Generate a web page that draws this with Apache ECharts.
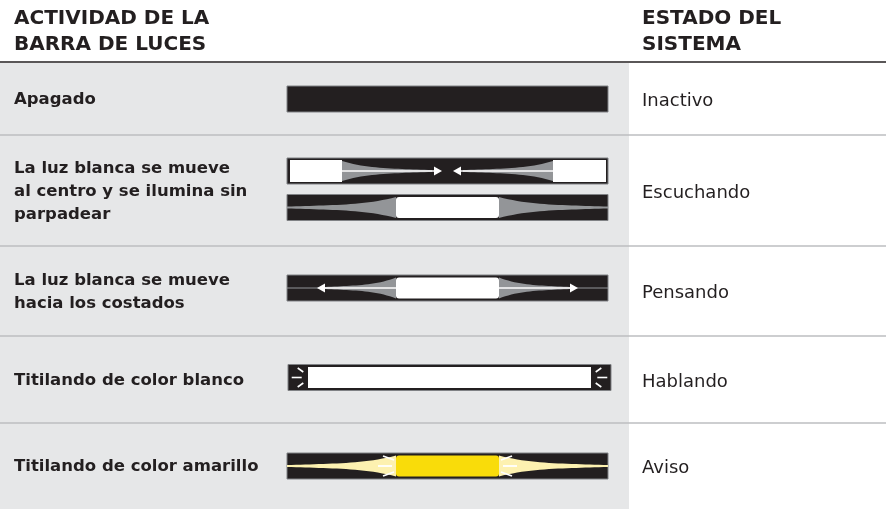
<!DOCTYPE html>
<html><head><meta charset="utf-8">
<script src="https://cdn.jsdelivr.net/npm/echarts@6/dist/echarts.min.js"></script>
<style>html,body{margin:0;padding:0;background:#fff}#c{width:886px;height:509px}</style>
</head><body><div id="c"></div>
<script>
// ---- content ----
const headerLeft = 'ACTIVIDAD DE LA\nBARRA DE LUCES';
const headerRight = 'ESTADO DEL\nSISTEMA';
const activities = [
  'Apagado',
  'La luz blanca se mueve\nal centro y se ilumina sin\nparpadear',
  'La luz blanca se mueve\nhacia los costados',
  'Titilando de color blanco',
  'Titilando de color amarillo'
];
const states = ['Inactivo', 'Escuchando', 'Pensando', 'Hablando', 'Aviso'];
const patterns = ['off', 'listening', 'thinking', 'speaking', 'alert'];

// ---- layout (pixel-like units of the hidden axes) ----
const W = 886, H = 509;
const LAY = {
  headerLine: 62, grayRight: 629,
  rowTops: [63, 135, 246, 336, 423, 509],
  textLeft: 14, textRight: 642,
  barX0: 287, barX1: 608, boxX0: 396, boxX1: 499,
  barH: 26
};
const C = {
  ink: '#231f20', gray: '#e6e7e8', sep: '#bcbec0', barStroke: '#808285',
  wedge: '#939598', yellow: '#f9dc0a', yellowLight: '#fdf1b0'
};
const FONT = '"DejaVu Sans", sans-serif';

function renderItem(params, api) {
  const i = api.value(0);
  const pt = (x, y) => api.coord([x, y]);
  const rect = (x0, y0, x1, y1, style, r) => {
    const a = pt(x0, y0), b = pt(x1, y1);
    return { type: 'rect', shape: { x: a[0], y: a[1], width: b[0] - a[0], height: b[1] - a[1], r: r || 0 }, style: style };
  };
  const line = (x0, y0, x1, y1, stroke, lw) => {
    const a = pt(x0, y0), b = pt(x1, y1);
    return { type: 'line', shape: { x1: a[0], y1: a[1], x2: b[0], y2: b[1] }, style: { stroke: stroke, lineWidth: lw || 1, lineCap: 'butt' } };
  };
  const poly = (pts, fill) => ({ type: 'polygon', shape: { points: pts.map(p => pt(p[0], p[1])) }, style: { fill: fill } });
  const wedge = (xs, xe, cy, h0, h1, fill) => {
    const top = [], bot = [];
    const n = 24;
    for (let k = 0; k <= n; k++) {
      const t = k / n;
      const h = h1 + (h0 - h1) * (0.7 * Math.pow(1 - t, 4) + 0.3 * (1 - t));
      const x = xs + (xe - xs) * t;
      top.push([x, cy - h]); bot.unshift([x, cy + h]);
    }
    return poly(top.concat(bot), fill);
  };
  const arrow = (tip, dir, cy, fill) => poly([[tip, cy], [tip - dir * 8, cy - 4.5], [tip - dir * 8, cy + 4.5]], fill);
  const bar = (x0, x1, cy) => rect(x0, cy - LAY.barH / 2, x1, cy + LAY.barH / 2, { fill: C.ink, stroke: C.barStroke, lineWidth: 1 });

  const y0 = LAY.rowTops[i], y1 = LAY.rowTops[i + 1];
  const cy = (y0 + y1) / 2;
  const ch = [];
  ch.push(rect(0, y0, LAY.grayRight, y1, { fill: C.gray }));
  if (i > 0) ch.push(line(0, y0, W, y0, C.sep, 1.5));

  const tl = pt(LAY.textLeft, cy + 1), tr = pt(LAY.textRight, cy + 2.5);
  ch.push({ type: 'text', style: { text: activities[i], x: tl[0], y: tl[1], fill: C.ink, font: 'bold 16.5px ' + FONT, lineHeight: 23, textVerticalAlign: 'middle', textAlign: 'left' } });
  ch.push({ type: 'text', style: { text: states[i], x: tr[0], y: tr[1], fill: C.ink, font: '18px ' + FONT, textVerticalAlign: 'middle', textAlign: 'left' } });

  const X0 = LAY.barX0, X1 = LAY.barX1, B0 = LAY.boxX0, B1 = LAY.boxX1;
  const p = patterns[i];
  if (p === 'off') {
    ch.push(bar(X0, X1, cy));
  } else if (p === 'listening') {
    const c1 = cy - 19.5, c2 = cy + 17;
    ch.push(bar(X0, X1, c1));
    ch.push(wedge(342, 432, c1, 10, 1, C.wedge));
    ch.push(wedge(553, 463, c1, 10, 1, C.wedge));
    ch.push(rect(290, c1 - 11, 342, c1 + 11, { fill: '#fff' }));
    ch.push(rect(553, c1 - 11, 606, c1 + 11, { fill: '#fff' }));
    ch.push(line(342, c1, 435, c1, '#fff', 1.5));
    ch.push(line(460, c1, 553, c1, '#fff', 1.5));
    ch.push(arrow(442, 1, c1, '#fff'));
    ch.push(arrow(453, -1, c1, '#fff'));
    ch.push(bar(X0, X1, c2));
    ch.push(line(X0, c2, X1, c2, C.wedge, 1));
    ch.push(wedge(B0, X0, c2, 10.5, 1, C.wedge));
    ch.push(wedge(B1, X1, c2, 10.5, 1, C.wedge));
    ch.push(rect(B0, c2 - 10.5, B1, c2 + 10.5, { fill: '#fff' }, 3));
  } else if (p === 'thinking') {
    const c = cy - 3;
    ch.push(bar(X0, X1, c));
    ch.push(line(X0, c, X1, c, C.wedge, 1));
    ch.push(wedge(B0, 322, c, 10.5, 1, C.wedge));
    ch.push(wedge(B1, 573, c, 10.5, 1, C.wedge));
    ch.push(rect(B0, c - 10.5, B1, c + 10.5, { fill: '#fff' }, 3));
    ch.push(line(323, c, B0, c, '#fff', 1.5));
    ch.push(line(B1, c, 572, c, '#fff', 1.5));
    ch.push(arrow(317, -1, c, '#fff'));
    ch.push(arrow(578, 1, c, '#fff'));
  } else if (p === 'speaking') {
    const c = cy - 2;
    const a = 288, b = 611, m = (a + b) / 2;
    ch.push(bar(a, b, c));
    ch.push(rect(308, c - 10.5, 591, c + 10.5, { fill: '#fff' }));
    const marks = [[297.7, -9.5, 303.3, -5.5], [291.7, 0, 301.7, 0], [297.7, 9.5, 303.3, 5.5]];
    marks.forEach(mk => {
      ch.push(line(mk[0], c + mk[1], mk[2], c + mk[3], '#fff', 1.6));
      ch.push(line(2 * m - mk[0], c + mk[1], 2 * m - mk[2], c + mk[3], '#fff', 1.6));
    });
  } else if (p === 'alert') {
    const c = cy;
    const m = (B0 + B1) / 2;
    ch.push(bar(X0, X1, c));
    ch.push(line(X0, c, X1, c, C.yellowLight, 1.2));
    ch.push(wedge(B0, X0, c, 10.5, 1, C.yellowLight));
    ch.push(wedge(B1, X1, c, 10.5, 1, C.yellowLight));
    ch.push(rect(B0, c - 10.5, B1, c + 10.5, { fill: C.yellow }, 3));
    const marks = [[383, -10, 394, -6], [378, 0, 392, 0], [383, 10, 394, 6]];
    marks.forEach(mk => {
      ch.push(line(mk[0], c + mk[1], mk[2], c + mk[3], '#fff', 1.8));
      ch.push(line(2 * m - mk[0], c + mk[1], 2 * m - mk[2], c + mk[3], '#fff', 1.8));
    });
  }
  return { type: 'group', children: ch };
}

const chart = echarts.init(document.getElementById('c'), null, { renderer: 'canvas' });
const headStyle = { fontFamily: FONT, fontWeight: 'bold', fontSize: 20, color: C.ink, lineHeight: 26 };
chart.setOption({
  animation: false,
  backgroundColor: '#ffffff',
  title: [
    { text: headerLeft, left: LAY.textLeft, top: 6, textStyle: headStyle, padding: 0 },
    { text: headerRight, left: LAY.textRight, top: 6, textStyle: headStyle, padding: 0 }
  ],
  grid: { left: 0, right: 0, top: 0, bottom: 0 },
  xAxis: { type: 'value', min: 0, max: W, show: false },
  yAxis: { type: 'value', min: 0, max: H, inverse: true, show: false },
  series: [{
    type: 'custom',
    renderItem: renderItem,
    clip: false,
    data: activities.map((a, i) => [i])
  }],
  graphic: [{ type: 'rect', shape: { x: 0, y: LAY.headerLine - 0.75, width: W, height: 1.5 }, style: { fill: C.ink } }]
});
</script></body></html>
